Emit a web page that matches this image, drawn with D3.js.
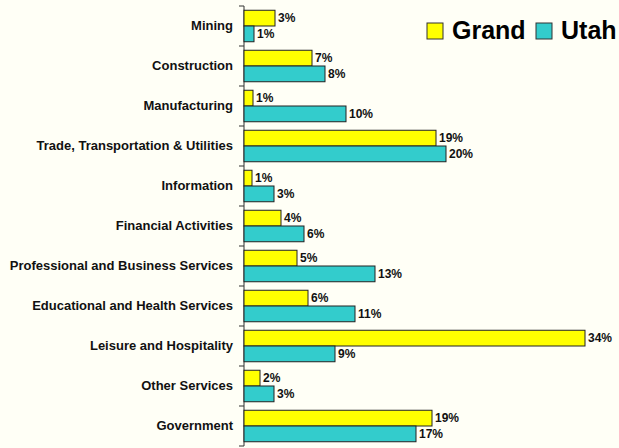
<!DOCTYPE html>
<html>
<head>
<meta charset="utf-8">
<script src="https://cdn.jsdelivr.net/npm/d3@7"></script>
<style>
    body { margin: 0; background: #fffff6; }
    svg { display: block; font-family: "Liberation Sans", Arial, sans-serif; font-weight: bold; }
</style>
</head>
<body>
<div id="chart"></div>
<script>

// industries, top to bottom
let categories = ["Mining", "Construction", "Manufacturing", "Trade, Transportation & Utilities",
    "Information", "Financial Activities", "Professional and Business Services",
    "Educational and Health Services", "Leisure and Hospitality", "Other Services", "Government"];

let seriesNames = ["Grand", "Utah"];

// share of employment (%)
let grandValues = [3.1, 6.8, 0.9, 19.2, 0.8, 3.7, 5.3, 6.4, 34.1, 1.6, 18.8];
let utahValues = [1.0, 8.1, 10.2, 20.2, 3.0, 6.0, 13.1, 11.1, 9.1, 3.0, 17.2];

// printed labels
let grandLabels = ["3%", "7%", "1%", "19%", "1%", "4%", "5%", "6%", "34%", "2%", "19%"];
let utahLabels = ["1%", "8%", "10%", "20%", "3%", "6%", "13%", "11%", "9%", "3%", "17%"];

let colors = ["#ffff00", "#33cccc"];

let width = 619, height = 448;
let margin = {top: 6, right: 34, bottom: 2, left: 244};

let svg = d3.select("#chart").append("svg")
    .attr("width", width)
    .attr("height", height);

let rows = categories.map((c, i) => ({
    cat: c,
    bars: [
        {key: "Grand", value: grandValues[i], label: grandLabels[i]},
        {key: "Utah", value: utahValues[i], label: utahLabels[i]}
    ]
}));

let y = d3.scaleBand()
    .domain(categories)
    .range([margin.top, height - margin.bottom])
    .padding(0);

let ySub = d3.scaleBand()
    .domain(seriesNames)
    .range([0, y.bandwidth()])
    .paddingInner(0)
    .paddingOuter(0.27);

let x = d3.scaleLinear()
    .domain([0, 34.1])
    .range([margin.left, width - margin.right]);

let color = d3.scaleOrdinal().domain(seriesNames).range(colors);

// category labels
let yAxis = svg.append("g")
    .attr("transform", `translate(${margin.left}, 0)`)
    .call(d3.axisLeft(y).tickSize(0).tickPadding(11));
yAxis.select(".domain").remove();
yAxis.selectAll("text")
    .attr("font-size", 13)
    .attr("font-family", "Liberation Sans, Arial, sans-serif")
    .attr("font-weight", "bold")
    .attr("fill", "#111");

// axis line + ticks at band edges
let edges = categories.map(c => y(c)).concat([y(categories[categories.length - 1]) + y.bandwidth()]);
svg.append("line")
    .attr("x1", x(0)).attr("x2", x(0))
    .attr("y1", edges[0]).attr("y2", edges[edges.length - 1])
    .attr("stroke", "#333");
svg.selectAll(".edgeTick")
    .data(edges)
    .enter().append("line")
    .attr("class", "edgeTick")
    .attr("x1", x(0) - 5).attr("x2", x(0))
    .attr("y1", d => d).attr("y2", d => d)
    .attr("stroke", "#333");

// bars
let groups = svg.selectAll(".row")
    .data(rows)
    .enter().append("g")
    .attr("class", "row")
    .attr("transform", d => `translate(0, ${y(d.cat)})`);

groups.selectAll("rect")
    .data(d => d.bars)
    .enter().append("rect")
    .attr("x", x(0))
    .attr("y", d => ySub(d.key))
    .attr("width", d => x(d.value) - x(0))
    .attr("height", ySub.bandwidth())
    .attr("fill", d => color(d.key))
    .attr("stroke", "#222")
    .attr("stroke-width", 1);

groups.selectAll(".val")
    .data(d => d.bars)
    .enter().append("text")
    .attr("class", "val")
    .attr("x", d => x(d.value) + 3)
    .attr("y", d => ySub(d.key) + ySub.bandwidth() / 2)
    .attr("dy", "0.36em")
    .attr("font-size", 12)
    .attr("fill", "#111")
    .text(d => d.label);

// legend
let legend = svg.append("g").attr("class", "legend");
let legendX = [427, 536];
seriesNames.forEach((s, i) => {
    legend.append("rect")
        .attr("x", legendX[i]).attr("y", 23)
        .attr("width", 16).attr("height", 16)
        .attr("fill", colors[i])
        .attr("stroke", "#333");
    legend.append("text")
        .attr("x", legendX[i] + 25).attr("y", 39)
        .attr("font-size", 25)
        .attr("fill", "#000")
        .text(s);
});

</script>
</body>
</html>
